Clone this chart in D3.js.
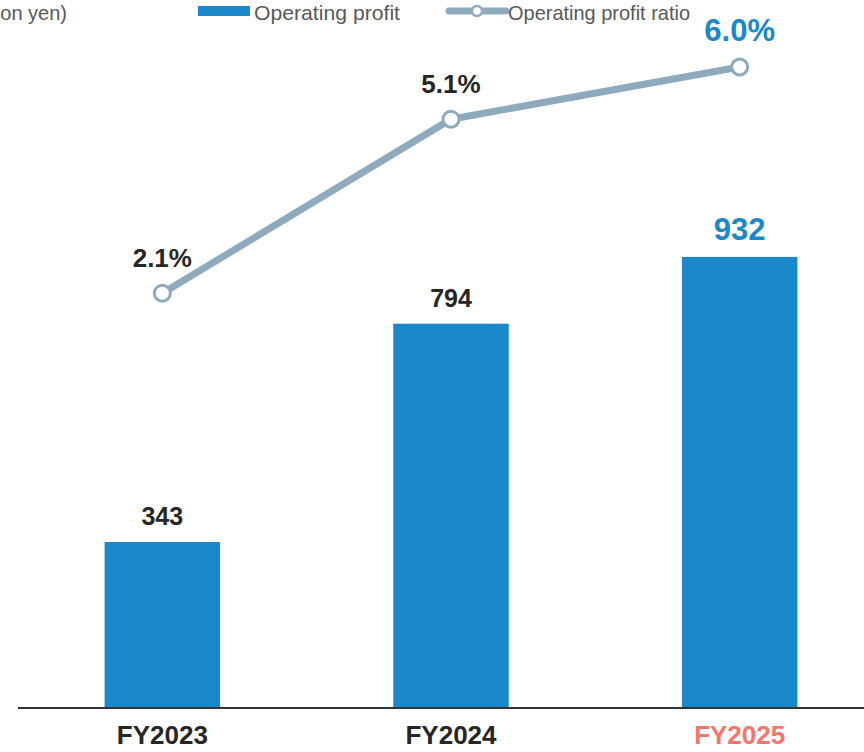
<!DOCTYPE html>
<html>
<head>
  <meta charset="utf-8">
  <title>Operating profit</title>
  <script src="https://cdn.jsdelivr.net/npm/d3@7"></script>
  <style>
    body { margin: 0; background: #fff; }
    text { font-family: "Liberation Sans", Arial, sans-serif; }
  </style>
</head>
<body>
  <script>
    // Data
    const years = ["FY2023", "FY2024", "FY2025"];
    const profit = [343, 794, 932];
    const ratio = [2.1, 5.1, 6.0];
    const ratioLabels = ["2.1%", "5.1%", "6.0%"];

    const w = 864, h = 752;
    const blue = "#1a88c9", grey = "#8eabbe", dark = "#262626";

    const svg = d3.select("body").append("svg")
      .attr("width", w).attr("height", h);

    // Scales
    const x = d3.scaleBand().domain(years).range([18, 884]).paddingInner(0.6).paddingOuter(0.3);
    const y = d3.scaleLinear().domain([0, 1000]).range([708, 224]);
    const yr = d3.scaleLinear().domain([0, 7]).range([415, 9]);

    // Bars
    svg.selectAll("rect.bar")
      .data(profit)
      .enter().append("rect")
      .attr("class", "bar")
      .attr("x", (d, i) => x(years[i]))
      .attr("width", x.bandwidth())
      .attr("y", d => y(d))
      .attr("height", d => y(0) - y(d))
      .attr("fill", blue);

    // Bar labels
    svg.selectAll("text.val")
      .data(profit)
      .enter().append("text")
      .attr("x", (d, i) => x(years[i]) + x.bandwidth() / 2)
      .attr("y", d => y(d) - 17)
      .attr("text-anchor", "middle")
      .attr("font-weight", "bold")
      .attr("font-size", (d, i) => i === 2 ? 31 : 25)
      .attr("fill", (d, i) => i === 2 ? blue : dark)
      .text(d => d);

    // Axis
    const axis = svg.append("g").attr("transform", "translate(0,708)")
      .call(d3.axisBottom(x).tickSize(0).tickPadding(18));
    axis.select(".domain").attr("d", "M18,0H864").attr("stroke", "#333").attr("stroke-width", 2);
    axis.selectAll(".tick text")
      .attr("font-size", 26).attr("font-weight", "bold")
      .attr("font-family", "Liberation Sans, Arial, sans-serif")
      .attr("fill", (d, i) => i === 2 ? "#f7766c" : dark);

    // Ratio line
    const cx = (d, i) => x(years[i]) + x.bandwidth() / 2;
    const line = d3.line().x(cx).y(d => yr(d));
    svg.append("path").datum(ratio)
      .attr("d", line).attr("fill", "none")
      .attr("stroke", grey).attr("stroke-width", 7);
    svg.selectAll("circle.pt")
      .data(ratio).enter().append("circle")
      .attr("cx", cx).attr("cy", d => yr(d)).attr("r", 8)
      .attr("fill", "#fff").attr("stroke", grey).attr("stroke-width", 3);
    svg.selectAll("text.rl")
      .data(ratio).enter().append("text")
      .attr("x", cx).attr("y", d => yr(d) - 26)
      .attr("text-anchor", "middle").attr("font-weight", "bold")
      .attr("font-size", (d, i) => i === 2 ? 31 : 26)
      .attr("fill", (d, i) => i === 2 ? blue : dark)
      .text((d, i) => ratioLabels[i]);

    // Unit label and legend
    svg.append("text").attr("x", 67).attr("y", 20).attr("text-anchor", "end")
      .attr("font-size", 20).attr("fill", "#595959").text("(100 million yen)");
    svg.append("rect").attr("x", 198).attr("y", 6).attr("width", 52).attr("height", 10).attr("fill", blue);
    svg.append("text").attr("x", 254).attr("y", 20).attr("font-size", 21)
      .attr("textLength", 146).attr("lengthAdjust", "spacingAndGlyphs")
      .attr("fill", "#595959").text("Operating profit");
    svg.append("line").attr("x1", 449).attr("x2", 506).attr("y1", 11).attr("y2", 11)
      .attr("stroke", grey).attr("stroke-width", 7).attr("stroke-linecap", "round");
    svg.append("circle").attr("cx", 477).attr("cy", 11).attr("r", 5)
      .attr("fill", "#fff").attr("stroke", grey).attr("stroke-width", 2.5);
    svg.append("text").attr("x", 508).attr("y", 20).attr("font-size", 21)
      .attr("textLength", 182).attr("lengthAdjust", "spacingAndGlyphs")
      .attr("fill", "#595959").text("Operating profit ratio");
  </script>
</body>
</html>
